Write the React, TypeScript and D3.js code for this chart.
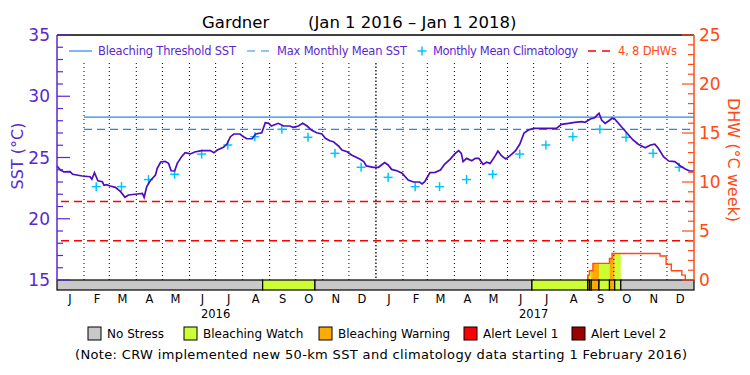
import * as d3 from "d3";

const START = new Date(2016, 0, 1);
const END = new Date(2018, 0, 1);

// daily SST, day offsets from Jan 1 2016
const sstDay = [
  0, 4, 8, 15, 18, 29, 38, 40, 43, 47, 52, 54, 57, 61, 67, 73, 78, 82, 92, 98,
  100, 103, 107, 113, 115, 119, 124, 128, 131, 135, 138, 143, 147, 153, 158, 166,
  176, 180, 184, 191, 195, 199, 203, 210, 214, 218, 224, 228, 235, 239, 243, 246,
  254, 260, 267, 271, 277, 282, 287, 292, 298, 304, 308, 313, 317, 323, 327, 333,
  338, 348, 352, 355, 363, 369, 376, 380, 384, 390, 396, 403, 409, 416, 419, 422,
  428, 434, 440, 445, 451, 457, 461, 464, 466, 470, 476, 480, 484, 489, 493, 497,
  503, 506, 510, 515, 520, 526, 531, 536, 541, 547, 556, 573, 579, 587, 594, 602,
  606, 612, 617, 622, 625, 629, 633, 637, 640, 646, 650, 656, 661, 667, 675, 681,
  686, 690, 696, 702, 709, 715, 721, 726, 731,
];
const sstValue = [
  24.31, 23.98, 23.82, 23.84, 23.63, 23.49, 23.43, 23.22, 23.76, 23.1, 23.02, 22.73,
  22.78, 22.67, 22.56, 22.21, 21.75, 21.94, 22.02, 22.07, 21.75, 22.62, 23.1, 23.57,
  24.11, 24.63, 24.69, 24.52, 23.92, 23.9, 24.52, 25.07, 25.39, 25.29, 25.45, 25.56,
  25.56, 25.39, 25.61, 25.83, 26.1, 26.7, 26.92, 26.92, 26.7, 26.53, 26.53, 26.92,
  27.02, 27.84, 27.79, 27.57, 27.79, 27.57, 27.57, 27.47, 27.57, 27.79, 27.57, 27.24,
  27.02, 26.92, 26.57, 26.37, 26.29, 25.94, 25.61, 25.47, 25.2, 24.85, 24.66, 24.31,
  24.2, 24.2, 24.58, 24.39, 24.03, 23.92, 23.71, 23.16, 23.0, 23.0, 22.84, 23.02,
  23.76, 23.79, 23.98, 24.47, 24.85, 25.34, 25.56, 25.34, 24.66, 24.93, 24.74, 24.93,
  24.93, 24.44, 24.61, 24.52, 25.15, 25.53, 25.15, 24.88, 25.15, 25.53, 26.08, 27.0,
  27.24, 27.38, 27.38, 27.38, 27.71, 27.79, 27.87, 27.92, 27.87, 28.14, 28.25, 28.61,
  28.06, 27.79, 27.98, 28.2, 28.14, 27.65, 27.33, 26.84, 26.43, 26.08, 25.8, 26.02,
  26.08, 25.75, 25.07, 24.71, 24.66, 24.33, 24.06, 23.9, 23.9,
];

// monthly mean climatology, Jan..Dec
const climValue = [23.38, 22.62, 22.62, 23.2, 23.63, 25.28, 26.02, 26.7, 27.3, 26.65, 25.34, 24.2];
const monthLabels = ["J", "F", "M", "A", "M", "J", "J", "A", "S", "O", "N", "D"];
const yearLabels = [2016, 2017];

const thresholdSST = 28.3;
const mmmSST = 27.3;
const dhwLines = [4, 8];

// degree heating weeks, step values starting on each day
const dhwDay = [609, 611, 615, 634, 637, 692, 699, 705, 717, 721];
const dhwValue = [0.5, 0.95, 1.7, 2.2, 2.7, 2.45, 1.6, 0.95, 0.5, 0];

// stress level from each start day
const stressStart = [0, 236, 296, 545, 609, 611, 613, 622, 634, 640, 647];
const stressLevel = [0, 1, 0, 1, 2, 1, 2, 1, 2, 1, 0];

const stressNames = ["No Stress", "Bleaching Watch", "Bleaching Warning", "Alert Level 1", "Alert Level 2"];
const stressColors = ["#c8c8c8", "#ccff33", "#ffaa00", "#ff0000", "#990000"];

const sstTicks = d3.range(15, 36);
const dhwTicks = d3.range(0, 26);

const PURPLE = "#5a28d0";
const LINE = "#4c0cbf";
const ORANGE = "#ff4a14";
const BLUE = "#2288ee";
const CYAN = "#00c4ff";
const RED = "#ff0000";
const FONT = "DejaVu Sans, sans-serif";

export default function App() {
  const left = 57;
  const right = 694;
  const top = 35;
  const bottom = 280;
  const barH = 10;

  const day = (d: number) => d3.timeDay.offset(START, d);
  const x = d3.scaleTime().domain([START, END]).range([left, right]);
  const ySst = d3.scaleLinear().domain([15, 35]).range([bottom, top]);
  const yDhw = d3.scaleLinear().domain([0, 25]).range([bottom, top]);

  const months = d3.timeMonth.range(START, END);
  const feb2016 = new Date(2016, 1, 1);

  const sstLine = d3
    .line<number>()
    .x((_, i) => x(day(sstDay[i])))
    .y((v) => ySst(v))(sstValue);

  const dhwAt = (d: number) => {
    let v = 0;
    dhwDay.forEach((s, i) => {
      if (s <= d) v = dhwValue[i];
    });
    return v;
  };
  const stressAt = (d: number) => {
    let v = 0;
    stressStart.forEach((s, i) => {
      if (s <= d) v = stressLevel[i];
    });
    return v;
  };

  const dhwPts: [number, number][] = [[dhwDay[0], 0], ...dhwDay.map((d, i) => [d, dhwValue[i]] as [number, number])];
  const dhwPath = d3
    .line<[number, number]>()
    .x((p) => x(day(p[0])))
    .y((p) => yDhw(p[1]))
    .curve(d3.curveStepAfter)(dhwPts);

  // fills under the DHW steps, coloured by stress level
  const breaks = Array.from(new Set([...stressStart, ...dhwDay, 731])).sort((a, b) => a - b);
  const fills = breaks.slice(0, -1).map((a, i) => ({
    a,
    b: breaks[i + 1],
    level: stressAt(a),
    v: dhwAt(a),
  })).filter((f) => f.level > 0 && f.v > 0);

  const segs = stressStart.map((s, i) => ({
    a: s,
    b: i + 1 < stressStart.length ? stressStart[i + 1] : 731,
    level: stressLevel[i],
  }));

  const legendX = [88, 184, 319, 464, 572];

  return (
    <div style={{ position: "absolute", left: 0, top: 0 }}>
      <svg width={750} height={375} style={{ display: "block", background: "#fff" }} fontFamily={FONT}>
        {/* title */}
        <text x={202} y={28} fontSize={16.5} fill="#000">Gardner</text>
        <text x={308} y={28} fontSize={16.5} fill="#000">(Jan 1 2016 – Jan 1 2018)</text>

        {/* DHW fills */}
        {fills.map((f, i) => (
          <rect
            key={`f${i}`}
            x={x(day(f.a))}
            y={yDhw(f.v)}
            width={x(day(f.b)) - x(day(f.a))}
            height={bottom - yDhw(f.v)}
            fill={stressColors[f.level]}
          />
        ))}

        {/* month grid */}
        {months.slice(1).map((m, i) => {
          const isYear = m.getMonth() === 0;
          return (
            <line
              key={`g${i}`}
              x1={x(m)}
              x2={x(m)}
              y1={63}
              y2={bottom}
              stroke="#000"
              strokeWidth={isYear ? 1.3 : 1}
              strokeDasharray={isYear ? "1.5,2" : "1,3"}
            />
          );
        })}

        {/* DHW reference lines */}
        {dhwLines.map((v) => (
          <line key={`d${v}`} x1={left + 4} x2={right} y1={yDhw(v)} y2={yDhw(v)} stroke={RED} strokeWidth={1.5} strokeDasharray="8,5" />
        ))}

        {/* threshold and MMM */}
        <line x1={x(feb2016)} x2={right} y1={ySst(thresholdSST)} y2={ySst(thresholdSST)} stroke={BLUE} strokeWidth={1.4} />
        <line x1={x(feb2016)} x2={right} y1={ySst(mmmSST)} y2={ySst(mmmSST)} stroke={BLUE} strokeWidth={1.4} strokeDasharray="8,5" />

        {/* climatology */}
        {months
          .filter((m) => m >= feb2016)
          .map((m, i) => {
            const cx = x(d3.timeDay.offset(m, 14));
            const cy = ySst(climValue[m.getMonth()]);
            return (
              <g key={`c${i}`} stroke={CYAN} strokeWidth={1.5}>
                <line x1={cx - 4.5} x2={cx + 4.5} y1={cy} y2={cy} />
                <line x1={cx} x2={cx} y1={cy - 4.5} y2={cy + 4.5} />
              </g>
            );
          })}

        {/* SST */}
        <path d={sstLine ?? ""} fill="none" stroke={LINE} strokeWidth={1.7} />

        {/* DHW line */}
        <path d={dhwPath ?? ""} fill="none" stroke={ORANGE} strokeWidth={1.4} />

        {/* stress bar */}
        {segs.map((s, i) => (
          <rect
            key={`s${i}`}
            x={x(day(s.a))}
            y={bottom}
            width={x(day(s.b)) - x(day(s.a))}
            height={barH}
            fill={stressColors[s.level]}
            stroke="#000"
            strokeWidth={1.2}
          />
        ))}

        {/* frame */}
        <line x1={left} x2={right} y1={top} y2={top} stroke="#000" strokeWidth={1.5} />
        <line x1={left} x2={left} y1={top} y2={bottom} stroke={PURPLE} strokeWidth={1.5} />
        <line x1={right} x2={right} y1={top} y2={bottom} stroke={ORANGE} strokeWidth={1.5} />

        {/* left axis */}
        {sstTicks.map((t) => (
          <line key={`lt${t}`} x1={left} x2={left + (t % 5 === 0 ? 13 : 6)} y1={ySst(t)} y2={ySst(t)} stroke={PURPLE} strokeWidth={1.2} />
        ))}
        {sstTicks.filter((t) => t % 5 === 0).map((t) => (
          <text key={`ll${t}`} x={50} y={ySst(t) + 6} textAnchor="end" fontSize={17} fill={PURPLE}>{t}</text>
        ))}
        <text transform={`translate(23,156) rotate(-90)`} textAnchor="middle" fontSize={16} fill={PURPLE}>SST (°C)</text>

        {/* right axis */}
        {dhwTicks.map((t) => (
          <line key={`rt${t}`} x1={right} x2={right - (t % 5 === 0 ? 12 : 6)} y1={yDhw(t)} y2={yDhw(t)} stroke={ORANGE} strokeWidth={1.2} />
        ))}
        {dhwTicks.filter((t) => t % 5 === 0).map((t) => (
          <text key={`rl${t}`} x={699} y={yDhw(t) + 6} fontSize={17} fill={ORANGE}>{t}</text>
        ))}
        <text transform={`translate(728,160) rotate(90)`} textAnchor="middle" fontSize={16} fill={ORANGE}>DHW (°C week)</text>

        {/* month labels */}
        {months.map((m, i) => (
          <text key={`m${i}`} x={x(d3.timeDay.offset(m, 15))} y={303} textAnchor="middle" fontSize={11.5} fill="#000">
            {monthLabels[m.getMonth()]}
          </text>
        ))}
        {yearLabels.map((yr) => (
          <text key={`y${yr}`} x={x(new Date(yr, 6, 1))} y={318} textAnchor="middle" fontSize={11.5} fill="#000">{yr}</text>
        ))}

        {/* in-plot legend */}
        <line x1={69} x2={92} y1={51} y2={51} stroke={BLUE} strokeWidth={1.2} />
        <text x={98} y={55} fontSize={11.5} fill={PURPLE} textLength={138}>Bleaching Threshold SST</text>
        <line x1={247} x2={270} y1={51} y2={51} stroke={BLUE} strokeWidth={1.2} strokeDasharray="8,6" />
        <text x={277} y={55} fontSize={11.5} fill={PURPLE} textLength={130}>Max Monthly Mean SST</text>
        <g stroke={CYAN} strokeWidth={1.5}>
          <line x1={417.5} x2={426.5} y1={51} y2={51} />
          <line x1={422} x2={422} y1={46.5} y2={55.5} />
        </g>
        <text x={433} y={55} fontSize={11.5} fill={PURPLE} textLength={145}>Monthly Mean Climatology</text>
        <line x1={588} x2={611} y1={51} y2={51} stroke={RED} strokeWidth={1.4} strokeDasharray="8,6" />
        <text x={618} y={55} fontSize={11.5} fill={ORANGE} textLength={59}>4, 8 DHWs</text>

        {/* stress legend */}
        {stressNames.map((n, i) => (
          <g key={n}>
            <rect x={legendX[i]} y={327} width={13} height={13} fill={stressColors[i]} stroke="#000" strokeWidth={1} />
            <text x={legendX[i] + 19} y={338} fontSize={12} fill="#000">{n}</text>
          </g>
        ))}
        <text x={381} y={359} textAnchor="middle" fontSize={13} fill="#000" textLength={612}>
          (Note: CRW implemented new 50-km SST and climatology data starting 1 February 2016)
        </text>
      </svg>
    </div>
  );
}
